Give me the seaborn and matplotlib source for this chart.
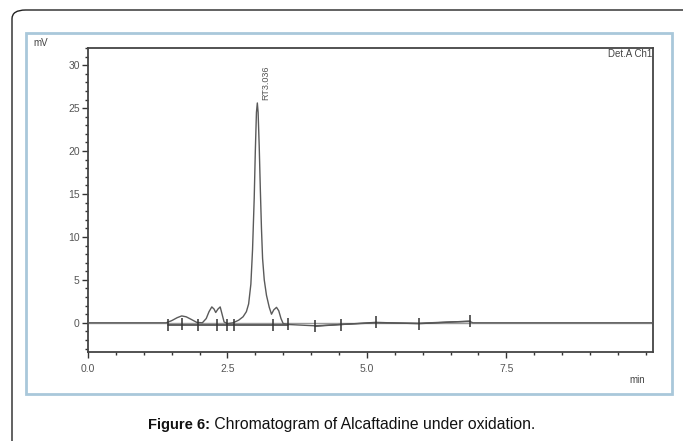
import matplotlib
matplotlib.use("Agg")
import matplotlib.pyplot as plt
import matplotlib.patches as mpatches
from matplotlib.ticker import MultipleLocator, FixedLocator
import pandas as pd
import seaborn as sns

# chromatogram trace (min, mV)
time_min = [0.0, 1.40, 1.50, 1.60, 1.68, 1.76, 1.85, 1.95, 2.05, 2.12, 2.17,
            2.22, 2.26, 2.29, 2.33, 2.37, 2.40, 2.44, 2.50, 2.60, 2.70, 2.78,
            2.84, 2.88, 2.92, 2.95, 2.98, 3.00, 3.02, 3.036, 3.05, 3.07, 3.09,
            3.11, 3.13, 3.16, 3.20, 3.25, 3.29, 3.33, 3.38, 3.42, 3.46, 3.50,
            3.60, 4.07, 4.53, 5.16, 5.93, 6.50, 6.85, 6.90, 10.13]
signal_mv = [0.0, 0.0, 0.25, 0.6, 0.8, 0.7, 0.4, 0.05, 0.0, 0.5, 1.3,
             1.85, 1.6, 1.2, 1.6, 1.85, 1.1, 0.1, -0.1, 0.0, 0.3, 0.7,
             1.3, 2.2, 4.5, 8.5, 14.5, 20.0, 24.5, 25.6, 24.5, 20.5, 15.5,
             11.0, 7.5, 5.0, 3.2, 1.8, 1.0, 1.5, 1.8, 1.4, 0.5, -0.1,
             -0.2, -0.35, -0.2, 0.0, -0.05, 0.1, 0.15, 0.0, 0.0]

# integration event markers
event_t = [1.43, 1.69, 1.97, 2.31, 2.49, 2.62, 3.32, 3.58, 4.07, 4.53, 5.16, 5.93, 6.85]
event_mv = [-0.25, -0.1, -0.3, -0.3, -0.3, -0.3, -0.3, -0.1, -0.4, -0.2, 0.05, -0.1, 0.2]

peak_rt = 3.036
peak_height = 25.6

df = pd.DataFrame({"t": time_min, "mv": signal_mv})

sns.set_style("white")
plt.rcParams["font.family"] = ["Liberation Sans", "DejaVu Sans"]

fig = plt.figure(figsize=(6.83, 4.41), dpi=100)

# outer frames
fig.patches.append(mpatches.FancyBboxPatch(
    (12 / 683, -0.2), 1.2, 1.2 - 10 / 441, boxstyle="round,pad=0,rounding_size=0.02",
    transform=fig.transFigure, fill=False, edgecolor="#222222", linewidth=1.0))
fig.patches.append(mpatches.Rectangle(
    (26 / 683, 1 - 394 / 441), (672 - 26) / 683, (394 - 33) / 441,
    transform=fig.transFigure, fill=False, edgecolor="#a9c8da", linewidth=2.0))

ax = fig.add_axes([88 / 683, 1 - 352 / 441, (653 - 88) / 683, (352 - 48) / 441])

ax.axhline(0, color="#9a9a9a", linewidth=1.0, zorder=1)
sns.lineplot(data=df, x="t", y="mv", ax=ax, sort=False, color="#5a5a5a",
             linewidth=1.0, zorder=3)
# integration baseline segments and event ticks
ax.plot(event_t[:8], [-0.25] * 8, color="#444444", linewidth=1.2, zorder=2)
ax.plot(event_t[8:], event_mv[8:], color="#444444", linewidth=1.0, zorder=2)
ax.plot(event_t, event_mv, linestyle="none", marker="|", markersize=8,
        markeredgewidth=1.1, color="#333333", zorder=4)

ax.annotate(f"RT{peak_rt:.3f}", xy=(peak_rt, peak_height),
            xytext=(8, 3), textcoords="offset pixels", rotation=90,
            ha="center", va="bottom", fontsize=6.5, color="#555555")

ax.set_xlim(0, 10.13)
ax.set_ylim(-3.4, 32)
ax.xaxis.set_major_locator(FixedLocator([0, 2.5, 5.0, 7.5]))
ax.xaxis.set_minor_locator(MultipleLocator(0.5))
ax.yaxis.set_major_locator(MultipleLocator(5))
ax.yaxis.set_minor_locator(MultipleLocator(1))
ax.set_xticklabels(["0.0", "2.5", "5.0", "7.5"])
ax.tick_params(axis="both", which="major", direction="out", length=4, width=1,
               color="#333333", labelsize=7.5, labelcolor="#555555", pad=2,
               bottom=True, left=True)
ax.tick_params(axis="x", which="major", pad=5)
ax.tick_params(axis="both", which="minor", direction="out", length=2.5, width=1,
               color="#333333", bottom=True, left=True)
ax.set_xlabel("")
ax.set_ylabel("")
for s in ax.spines.values():
    s.set_color("#444444")
    s.set_linewidth(1.3)

ax.text(0.998, 0.997, "Det.A Ch1", transform=ax.transAxes, ha="right", va="top",
        fontsize=7, color="#444444")
fig.text(33 / 683, 1 - 43 / 441, "mV", ha="left", va="center", fontsize=7, color="#444444")
fig.text(645 / 683, 1 - 380 / 441, "min", ha="right", va="center", fontsize=7, color="#444444")

# caption: bold label followed by regular text
t1 = fig.text(148 / 683, 1 - 425 / 441, "Figure 6:", ha="left", va="center",
              fontsize=10.5, fontweight="bold", color="#111111")
ax.annotate(" Chromatogram of Alcaftadine under oxidation.", xy=(1, 0), xycoords=t1,
            ha="left", va="bottom", fontsize=11.3, color="#111111",
            annotation_clip=False)

fig.savefig("out.png", dpi=100)
